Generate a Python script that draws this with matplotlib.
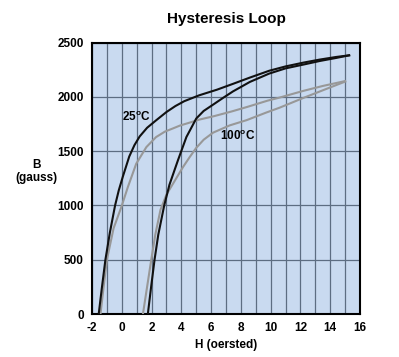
import numpy as np
import matplotlib
matplotlib.use("Agg")
import matplotlib.pyplot as plt

plt.rcParams['font.family'] = ['Liberation Sans', 'DejaVu Sans']
plt.rcParams['mathtext.fontset'] = 'custom'
plt.rcParams['mathtext.rm'] = 'Liberation Sans:bold'
plt.rcParams['axes.unicode_minus'] = False

# 25 C loop, upper (descending) branch
h25_down = [15.27, 14.4, 13.3, 12.2, 11.0, 9.9, 8.6, 7.5, 6.4, 5.2, 4.2, 3.6, 3.0, 2.3, 1.7, 1.2, 0.85,
            0.5, 0.07, -0.2, -0.45, -0.8, -1.1, -1.33, -1.55]
b25_down = [2382, 2367, 2343, 2315, 2280, 2240, 2177, 2121, 2066, 2014, 1960, 1915, 1860, 1783, 1715, 1635, 1555,
            1450, 1265, 1140, 1000, 750, 500, 250, 0]
# 25 C loop, lower (ascending) branch
h25_up = [1.75, 1.97, 2.2, 2.45, 2.85, 3.2, 3.77, 4.34, 5.0, 5.5, 6.1, 6.8, 7.47, 8.6, 9.9, 11.0, 12.2, 13.3, 14.4, 15.27]
b25_up = [0, 250, 500, 730, 1000, 1190, 1415, 1630, 1800, 1870, 1925, 1990, 2050, 2137, 2214, 2262, 2297, 2330, 2358, 2382]

# 100 C loop, upper (descending) branch
h100_down = [15.0, 13.5, 12.2, 10.6, 9.8, 8.4, 7.4, 6.2, 5.2, 4.5, 3.9, 3.4, 2.9, 2.3, 1.65, 0.97, 0.41,
             -0.03, -0.55, -1.0, -1.22, -1.43]
b100_down = [2145, 2100, 2055, 1993, 1965, 1906, 1866, 1822, 1790, 1760, 1735, 1707, 1680, 1629, 1537, 1384, 1170,
             985, 790, 500, 250, 0]
# 100 C loop, lower (ascending) branch
h100_up = [1.42, 1.7, 1.98, 2.25, 2.6, 3.0, 3.44, 4.11, 4.56, 5.0, 5.5, 6.13, 7.25, 8.38, 9.7, 10.6, 12.2, 13.5, 15.0]
b100_up = [0, 250, 500, 730, 960, 1100, 1200, 1353, 1445, 1530, 1605, 1670, 1737, 1785, 1855, 1900, 1990, 2060, 2140]

xticks = np.arange(-2, 17, 2)
yticks = np.arange(0, 2501, 500)

fig = plt.figure(figsize=(3.99, 3.57), dpi=100)
ax = fig.add_axes([0.2306, 0.1204, 0.6717, 0.7605])
ax.set_facecolor("#c9daf0")

ax.plot(h100_down, b100_down, color="#989898", lw=1.5, zorder=3, solid_joinstyle="round")
ax.plot(h100_up, b100_up, color="#989898", lw=1.5, zorder=3, solid_joinstyle="round")
ax.plot(h25_down, b25_down, color="#111111", lw=1.5, zorder=4, solid_joinstyle="round")
ax.plot(h25_up, b25_up, color="#111111", lw=1.5, zorder=4, solid_joinstyle="round")

ax.set_xlim(-2, 16)
ax.set_ylim(0, 2500)
ax.set_xticks(xticks)
ax.set_yticks(yticks)
ax.set_xticks(np.arange(-1, 16, 1), minor=True)
ax.grid(True, which="both", axis="x", color="#5d6d82", lw=0.9)
ax.grid(True, which="major", axis="y", color="#5d6d82", lw=0.9)
ax.tick_params(which="both", length=0, labelsize=8.5, pad=6)
for lab in ax.get_xticklabels() + ax.get_yticklabels():
    lab.set_fontweight("bold")
for sp in ax.spines.values():
    sp.set_linewidth(1.5)

ax.text(1.0, 1810, "25$^{\\mathrm{o}}$C", fontsize=8.5, fontweight="bold", ha="center", va="center")
ax.text(7.8, 1640, "100$^{\\mathrm{o}}$C", fontsize=8.5, fontweight="bold", ha="center", va="center")

ax.set_title("Hysteresis Loop", fontsize=11, fontweight="bold", pad=14)
ax.set_xlabel("H (oersted)", fontsize=8.5, fontweight="bold", labelpad=3)
fig.text(0.092, 0.52, "B\n(gauss)", fontsize=8.5, fontweight="bold", ha="center", va="center", linespacing=1.1)

fig.savefig("out.png", dpi=100)
